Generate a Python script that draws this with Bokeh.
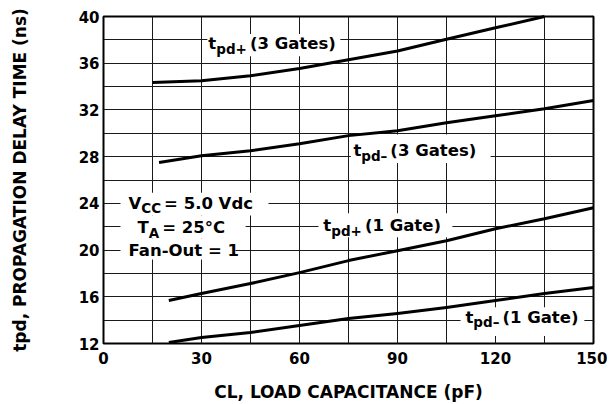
from bokeh.plotting import figure
from bokeh.models import FixedTicker, Label, BoxAnnotation
from bokeh.embed import file_html
from bokeh.resources import INLINE

# ---- data ----
cl_3g_plus = [15, 30, 45, 60, 75, 90, 105, 120, 135]
tpd_plus_3g = [34.35, 34.5, 34.93, 35.55, 36.3, 37.05, 38.05, 39.03, 40.0]
cl_3g_minus = [17, 30, 45, 60, 75, 90, 105, 120, 135, 150]
tpd_minus_3g = [27.5, 28.08, 28.5, 29.1, 29.8, 30.22, 30.9, 31.5, 32.1, 32.8]
cl_1g = [20, 30, 45, 60, 75, 90, 105, 120, 135, 150]
tpd_plus_1g = [15.68, 16.28, 17.13, 18.07, 19.1, 19.95, 20.8, 21.83, 22.68, 23.63]
tpd_minus_1g = [12.09, 12.52, 12.94, 13.54, 14.14, 14.57, 15.08, 15.68, 16.28, 16.8]

x_ticks = [0, 30, 60, 90, 120, 150]
y_ticks = [12, 16, 20, 24, 28, 32, 36, 40]
x_grid = list(range(0, 151, 15))
y_grid = list(range(12, 41, 2))

x_title = "CL, LOAD CAPACITANCE (pF)"
y_title = "tpd, PROPAGATION DELAY TIME (ns)"

FONT = "DejaVu Sans"
ADV = {' ': .348, '(': .457, ')': .457, '+': .838, '–': .5, '-': .415, '=': .838,
       '.': .38, ',': .38, '°': .5, 'A': .774, 'C': .734, 'D': .83, 'E': .683,
       'F': .683, 'G': .821, 'I': .372, 'L': .637, 'M': .995, 'N': .837, 'O': .85,
       'P': .733, 'R': .77, 'T': .682, 'V': .774, 'Y': .724, 'a': .675, 'c': .593,
       'd': .716, 'e': .678, 'n': .712, 'p': .716, 's': .595, 't': .478, 'u': .712}
for dgt in "0123456789":
    ADV[dgt] = .696


def tw(s, size):
    return sum(ADV.get(ch, .65) for ch in s) * size


p = figure(x_range=(0, 150), y_range=(12, 40),
           frame_width=490, frame_height=327,
           min_border_left=103, min_border_right=14, min_border_top=16, min_border_bottom=60,
           output_backend="svg", toolbar_location=None)

p.background_fill_color = "white"
p.border_fill_color = "white"
p.outline_line_color = "black"
p.outline_line_width = 2

for ax in (p.xaxis[0], p.yaxis[0]):
    ax.axis_line_color = None
    ax.major_tick_line_color = None
    ax.minor_tick_line_color = None
    ax.major_tick_out = 0
    ax.major_tick_in = 0
    ax.minor_tick_out = 0
    ax.minor_tick_in = 0
    ax.major_label_text_font = FONT
    ax.major_label_text_font_style = "bold"
    ax.major_label_text_font_size = "15px"
    ax.major_label_text_color = "black"
    ax.axis_label_text_font = FONT
    ax.axis_label_text_font_style = "bold"
    ax.axis_label_text_font_size = "17px"
    ax.axis_label_text_color = "black"
p.xaxis.ticker = FixedTicker(ticks=x_ticks)
p.yaxis.ticker = FixedTicker(ticks=y_ticks)
p.xaxis.major_label_standoff = 8
p.yaxis.major_label_standoff = 4
p.xaxis.axis_label = x_title
p.yaxis.axis_label = y_title
p.xaxis.axis_label_standoff = 15
p.yaxis.axis_label_standoff = 46

p.xgrid.ticker = FixedTicker(ticks=x_grid)
p.ygrid.ticker = FixedTicker(ticks=y_grid)
for g in (p.xgrid[0], p.ygrid[0]):
    g.grid_line_color = "#1a1a1a"
    g.grid_line_width = 1

# white boxes behind in-plot labels (data coords)
boxes = [
    (31.8, 72.5, 36.6, 38.5),
    (75.7, 118.5, 27.45, 29.9),
    (5.2, 50.5, 22.95, 24.9),
    (5.2, 43.5, 21.0, 22.95),
    (5.2, 40.4, 19.2, 21.0),
    (65.8, 106.8, 21.1, 23.15),
    (109.3, 147.2, 12.65, 15.1),
]
for l, r, b, t in boxes:
    p.add_layout(BoxAnnotation(left=l, right=r, bottom=b, top=t,
                               fill_color="white", fill_alpha=1.0, line_alpha=0))

# curves
for xs, ys in ((cl_3g_plus, tpd_plus_3g), (cl_3g_minus, tpd_minus_3g),
               (cl_1g, tpd_plus_1g), (cl_1g, tpd_minus_1g)):
    p.line(xs, ys, line_color="black", line_width=3, line_join="round",
           line_cap="butt", level="overlay")


def compound(parts, x, y):
    off = 0.0
    for text, size, dy, gap in parts:
        p.add_layout(Label(x=x, y=y, x_offset=off, y_offset=dy, text=text,
                           text_font=FONT, text_font_size=f"{size}px",
                           text_font_style="bold", text_color="black",
                           text_baseline="middle", text_align="left"))
        off += tw(text, size) + gap


M, S, D = 16.5, 13.5, -5
compound([("t", M, 0, 0), ("pd+", S, D, 3), (" (3 Gates)", M, 0, 0)], 32.1, 37.66)
compound([("t", M, 0, 0), ("pd–", S, D, 3), (" (3 Gates)", M, 0, 0)], 76.5, 28.5)
compound([("V", M, 0, 0), ("CC", S, D, 3), (" = 5.0 Vdc", M, 0, 0)], 7.65, 24.0)
compound([("T", M, 0, 0), ("A", S, D, 3), (" = 25°C", M, 0, 0)], 10.4, 21.93)
compound([("Fan-Out = 1", M, 0, 0)], 7.65, 19.96)
compound([("t", M, 0, 0), ("pd+", S, D, 3), (" (1 Gate)", M, 0, 0)], 67.3, 22.1)
compound([("t", M, 0, 0), ("pd–", S, D, 3), (" (1 Gate)", M, 0, 0)], 110.8, 14.23)

open("out.html", "w").write(file_html(p, INLINE))
